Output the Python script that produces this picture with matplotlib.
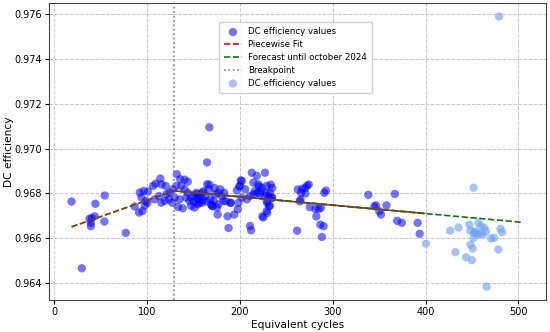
import numpy as np
import matplotlib
matplotlib.use("Agg")
import matplotlib.pyplot as plt
from matplotlib.ticker import FormatStrFormatter

# DC efficiency values (dark points)
cycles = [18.5, 29.6, 37.8, 39.3, 39.3, 40.3, 43.5, 44.2, 53.9, 54.3, 77.0, 86.6,
          91.3, 95.0, 92.0, 96.4, 101.0, 93.9, 98.5, 97.4, 100.3, 106.3, 109.2, 114.2,
          115.3, 108.1, 112.7, 115.3, 119.0, 119.9, 123.4, 124.2, 127.0, 127.7, 120.7,
          132.0, 135.6, 131.4, 136.7, 143.8, 140.3, 133.1, 138.4, 129.6, 134.9, 142.0,
          145.6, 151.0, 154.5, 147.4, 151.0, 154.5,
          140.3, 143.8, 147.4, 150.2, 152.8, 156.3, 159.9, 156.3, 160.6, 164.5, 167.0,
          167.0, 163.5, 168.8, 170.6, 176.0, 172.4, 176.7, 180.2, 183.1, 184.9, 186.6,
          187.7, 190.3, 193.8,
          212.7, 227.0, 218.1, 202.0, 200.2, 205.6, 196.7, 214.5, 219.8, 223.4, 228.8,
          232.3, 216.3, 221.6, 227.0, 234.2, 228.8, 232.3, 228.8, 225.2, 210.9, 212.0,
          197.7, 198.4, 189.5, 182.3, 176.9, 171.6, 173.4, 178.8, 164.6, 166.3, 159.2,
          155.6, 159.2, 153.9, 162.7, 168.1, 169.9, 175.3, 202.0, 207.4, 210.9, 214.5,
          200.9, 199.1, 220.6, 233.1, 234.8, 222.4, 218.7, 227.7, 231.3, 229.4, 234.8,
          231.3, 229.4, 224.1,
          261.6, 262.3, 267.0, 270.5, 272.3, 274.1, 265.9, 270.5, 265.2, 264.5, 275.2,
          281.3, 284.8, 287.3, 282.3, 286.6, 290.1, 288.3, 290.9, 292.6, 338.3, 366.9,
          344.8, 346.6, 350.1, 351.9, 357.9, 369.4, 374.4, 391.5, 393.6]
efficiency = [0.96763, 0.96465, 0.96686, 0.96668, 0.96653, 0.96690, 0.96697, 0.96753,
              0.96674, 0.96790, 0.96623, 0.96741, 0.96714, 0.96721, 0.96803, 0.96811,
              0.96808, 0.96781, 0.96766, 0.96744, 0.96757, 0.96833, 0.96843, 0.96866,
              0.96840, 0.96773, 0.96788, 0.96758, 0.96766, 0.96833, 0.96773, 0.96803,
              0.96758, 0.96818, 0.96796,
              0.96885, 0.96863, 0.96833, 0.96833, 0.96852, 0.96818, 0.96739, 0.96733,
              0.96781, 0.96773, 0.96781, 0.96766, 0.96788, 0.96773, 0.96744, 0.96736,
              0.96751,
              0.96861, 0.96802, 0.96779, 0.96764, 0.96802, 0.96787, 0.96772, 0.96757,
              0.96809, 0.96938, 0.96839, 0.97095, 0.96764, 0.96750, 0.96742, 0.96705,
              0.96824, 0.96802, 0.96787, 0.96802, 0.96764, 0.96697, 0.96645, 0.96757,
              0.96705,
              0.96892, 0.96892, 0.96878, 0.96855, 0.96833, 0.96818, 0.96813, 0.96848,
              0.96840, 0.96825, 0.96833, 0.96803, 0.96811, 0.96796, 0.96788, 0.96781,
              0.96766, 0.96744, 0.96721, 0.96692, 0.96654, 0.96635, 0.96729, 0.96758,
              0.96758, 0.96766, 0.96751, 0.96766, 0.96796, 0.96818, 0.96840, 0.96818,
              0.96803, 0.96773, 0.96758, 0.96796, 0.96788, 0.96773, 0.96744, 0.96736,
              0.96781, 0.96773, 0.96788, 0.96796,
              0.96858, 0.96831, 0.96831, 0.96839, 0.96824, 0.96809, 0.96802, 0.96802,
              0.96787, 0.96757, 0.96779, 0.96742, 0.96712, 0.96697,
              0.96633, 0.96817, 0.96820, 0.96824, 0.96834, 0.96839, 0.96802, 0.96799,
              0.96772, 0.96764, 0.96738, 0.96730, 0.96730, 0.96735, 0.96697, 0.96660,
              0.96653, 0.96605, 0.96802, 0.96812, 0.96793, 0.96797, 0.96742, 0.96746,
              0.96720, 0.96705, 0.96746, 0.96677, 0.96668, 0.96668, 0.96619]

# newer DC efficiency values (light points)
new_cycles = [400.4, 426.5, 432.2, 435.5, 443.6, 447.2, 448.3, 448.3, 450.0, 450.7,
              451.8, 451.8, 452.6, 453.3, 456.1, 456.9, 459.0, 459.7, 461.5, 463.3,
              465.0, 465.7, 470.4, 473.9, 478.3, 479.3, 480.7, 482.5]
new_efficiency = [0.96575, 0.96633, 0.96537, 0.96647, 0.96514, 0.96660, 0.96633, 0.96571,
                  0.96501, 0.96553, 0.96601, 0.96825, 0.96623, 0.96630, 0.96616, 0.96668,
                  0.96620, 0.96653, 0.96616, 0.96646, 0.96630, 0.96383, 0.96598, 0.96601,
                  0.96549, 0.97590, 0.96641, 0.96626]

# piecewise fit and forecast
breakpoint_x = 129
fit_x = [18.5, 129, 399]
fit_y = [0.96650, 0.96811, 0.96710]
forecast_x = [18.5, 129, 505]
forecast_y = [0.96650, 0.96811, 0.96670]

fig, ax = plt.subplots(figsize=(5.5, 3.32), dpi=100)
fig.subplots_adjust(left=0.089, right=0.992, bottom=0.096, top=0.991)

ax.scatter(cycles, efficiency, color="blue", alpha=0.55, s=36, edgecolors="none",
           label="DC efficiency values", zorder=2)
# fit and forecast overlap after the breakpoint -> looks like one solid olive line
ax.plot(fit_x[1:], fit_y[1:], color="#4f5a22", linewidth=1.2, zorder=3)
ax.plot(forecast_x, forecast_y, color="green", linestyle="--", linewidth=1.2,
        label="Forecast until october 2024", zorder=3)
ax.plot(fit_x, fit_y, color="red", linestyle="--", linewidth=1.2, alpha=0.55,
        label="Piecewise Fit", zorder=4)
ax.axvline(breakpoint_x, color="gray", linestyle=":", linewidth=1.2, label="Breakpoint")
ax.scatter(new_cycles, new_efficiency, color="#6a9ef0", alpha=0.6, s=36, edgecolors="none",
           label="DC efficiency values", zorder=2)

ax.set_xlabel("Equivalent cycles", fontsize=7.7, labelpad=2)
ax.set_ylabel("DC efficiency", fontsize=7.7)
ax.yaxis.set_label_coords(-0.07, 0.5)
ax.tick_params(labelsize=7, length=3, pad=2)
ax.yaxis.set_major_formatter(FormatStrFormatter("%.3f"))
ax.set_yticks([0.964, 0.966, 0.968, 0.970, 0.972, 0.974, 0.976])
ax.set_xticks([0, 100, 200, 300, 400, 500])
ax.grid(True, linestyle="--", color="#c8c8c8", linewidth=0.7)
for s in ax.spines.values():
    s.set_color("#444444")

handles, labels = ax.get_legend_handles_labels()
order = [0, 2, 1, 3, 4]
leg = ax.legend([handles[i] for i in order], [labels[i] for i in order],
                loc="upper left", bbox_to_anchor=(0.334, 0.95), fontsize=6.2,
                handlelength=2, borderpad=0.6, labelspacing=0.45, framealpha=0.9)
for ln in leg.get_lines():
    ln.set_alpha(1)

plt.savefig("out.png", dpi=100)
